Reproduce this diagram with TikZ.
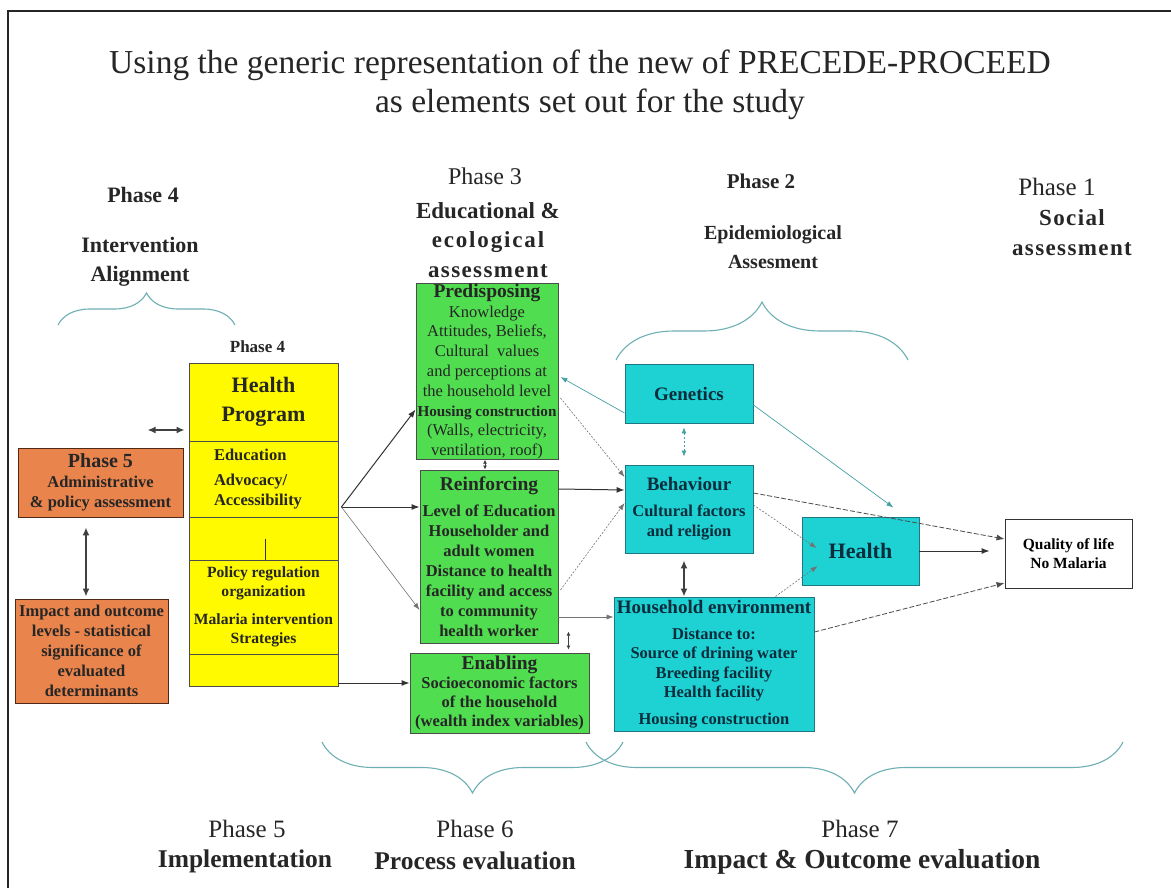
\documentclass[tikz,border=0pt]{standalone}
\usepackage{fontspec}
\setmainfont{Liberation Serif}
\usetikzlibrary{arrows.meta,positioning,decorations.pathreplacing}

\definecolor{hpyellow}{RGB}{255,250,0}
\definecolor{envgreen}{RGB}{80,222,80}
\definecolor{epicyan}{RGB}{30,210,212}
\definecolor{cyanedge}{RGB}{30,120,130}
\definecolor{cyantext}{RGB}{10,45,60}
\definecolor{admorange}{RGB}{232,132,76}
\definecolor{orangeedge}{RGB}{80,40,20}
\definecolor{bracecol}{RGB}{110,175,180}
\definecolor{tealline}{RGB}{70,160,165}

\newcommand{\setfs}[2]{\fontsize{#1}{#2}\selectfont}

\begin{document}
\begin{tikzpicture}[x=1pt,y=-1pt,
				box/.style={draw,rectangle,inner sep=0pt,align=center,line width=0.9pt,
					font=\setfs{16.5}{20}\bfseries},
				yellowbox/.style={box,fill=hpyellow,draw=black!70,minimum width=149pt,text=black!85},
				greenbox/.style={box,fill=envgreen,draw=black!70,text=black!85},
				cyanbox/.style={box,fill=epicyan,draw=cyanedge,text=cyantext},
				orangebox/.style={box,fill=admorange,draw=orangeedge,text=black!85},
				headtxt/.style={align=center,inner sep=0pt,text=black!85},
				phasebrace/.style={draw=bracecol,line width=1.1pt,decorate,decoration={brace,amplitude=#1}},
				solidarr/.style={draw=black!80,line width=1pt,-{Latex[length=8pt,width=6pt]}},
				dblarr/.style={draw=black!75,line width=1.6pt,{Latex[length=8pt,width=7pt]}-{Latex[length=8pt,width=7pt]}},
				smalldbl/.style={draw=black!75,line width=0.8pt,{Latex[length=4pt,width=4pt]}-{Latex[length=4pt,width=4pt]}},
				thinarr/.style={draw=black!55,line width=0.6pt,-{Latex[length=7pt,width=5pt]}},
				dotarr/.style={thinarr,dash pattern=on 2pt off 1.5pt},
				dasharr/.style={draw=black!70,line width=0.8pt,dash pattern=on 5pt off 2pt,-{Latex[length=8pt,width=6pt]}},
				tealarr/.style={draw=tealline,line width=0.7pt,-{Latex[length=7pt,width=5pt]}},
				tealdbl/.style={draw=tealline,line width=0.8pt,dash pattern=on 2pt off 2pt,
					{Latex[length=6pt,width=5pt]}-{Latex[length=6pt,width=5pt]}}]
				
				\fill[white] (0,0) rectangle (1171,888);
				\useasboundingbox (0,0) rectangle (1171,888);
				\draw[line width=2pt,black!85] (8,888) -- (8,11) -- (1171,11);
				
				% Title
				\node[headtxt,font=\setfs{33.5}{37}] (title) at (580,65)
					{Using the generic representation of the new of PRECEDE-PROCEED};
				\node[headtxt,font=\setfs{33.5}{37},below=8pt of title,xshift=10pt] (subtitle)
					{as elements set out for the study};
				
				% Phase headings
				\node[headtxt,font=\setfs{22}{29}\bfseries] (ph4) at (143,195) {Phase 4};
				\node[headtxt,font=\setfs{22}{29}\bfseries] (ph4name) at (140,262) {Intervention\\Alignment};
				\node[headtxt,font=\setfs{24}{29}] (ph3) at (485,176) {Phase 3};
				\node[headtxt,font=\setfs{23}{29.5}\bfseries] (ph3name) at (488,240)
					{Educational \&\\{\addfontfeatures{LetterSpace=8}ecological}\\{\addfontfeatures{LetterSpace=6}assessment}};
				\node[headtxt,font=\setfs{21}{29}\bfseries] (ph2) at (761,181) {Phase 2};
				\node[headtxt,font=\setfs{20}{29}\bfseries] (ph2name) at (773,247) {Epidemiological\\Assesment};
				\node[headtxt,font=\setfs{25}{30}] (ph1) at (1057,187) {Phase 1};
				\node[headtxt,font=\setfs{23}{30}\bfseries\addfontfeatures{LetterSpace=6}] (ph1name) at (1072,233)
					{Social\\assessment};
				
				% Health program column
				\node[yellowbox,minimum height=78pt,font=\setfs{22}{29}\bfseries] (hptop) at (263.5,402) {Health\\Program};
				\node[yellowbox,minimum height=76pt,align=left,text width=99pt] (hpedu) at (263.5,479) {Education\\[5pt]Advocacy/\\Accessibility};
				\node[yellowbox,minimum height=43pt] (hpgap) at (263.5,538.5) {};
				\node[yellowbox,minimum height=94pt,font=\setfs{15.6}{19}\bfseries] (hppol) at (263.5,607)
					{Policy regulation\\organization\\[9pt]Malaria intervention\\Strategies};
				\node[yellowbox,minimum height=32pt] (hpbot) at (263.5,670) {};
				\node[headtxt,font=\setfs{17}{20}\bfseries,above=10pt of hptop,xshift=-6pt] (ph4small) {Phase 4};
				\draw[black!80,line width=0.8pt] ([xshift=1.5pt]hpgap.center) -- ([xshift=1.5pt]hpgap.south);
				
				% Administration and evaluation
				\node[orangebox,minimum width=165pt,minimum height=69pt] (adm) at (100.5,482.5)
					{{\setfs{20}{20}Phase 5}\\Administrative\\\& policy assessment};
				\node[orangebox,minimum width=153pt,minimum height=104pt] (imp) at (91.5,651)
					{Impact and outcome\\levels - statistical\\significance of\\evaluated\\determinants};
				
				% Educational factors
				\node[greenbox,minimum width=142pt,minimum height=175pt,font=\setfs{16.5}{19.8}] (pre) at (487,371.5)
					{{\bfseries\setfs{19.5}{20}Predisposing}\\Knowledge\\Attitudes, Beliefs,\\Cultural~ values\\and perceptions at\\the household level\\{\bfseries\setfs{15.2}{20}Housing construction}\\(Walls, electricity,\\ventilation, roof)};
				\node[greenbox,minimum width=138pt,minimum height=173pt] (rei) at (489,556.5)
					{{\setfs{19.5}{20}Reinforcing}\\[6pt]Level of Education\\Householder and\\adult women\\Distance to health\\facility and access\\to community\\health worker};
				\node[greenbox,minimum width=179pt,minimum height=80pt,font=\setfs{16.5}{19}\bfseries] (ena) at (499.5,693)
					{{\setfs{19.5}{20}Enabling}\\Socioeconomic factors\\of the household\\(wealth index variables)};
				
				% Epidemiological factors
				\node[cyanbox,minimum width=128pt,minimum height=59pt,font=\setfs{19}{20}\bfseries] (gen) at (689,393.5) {Genetics};
				\node[cyanbox,minimum width=128pt,minimum height=88pt] (beh) at (689,509)
					{{\setfs{19}{20}Behaviour}\\[6pt]Cultural factors\\and religion};
				\node[cyanbox,minimum width=200pt,minimum height=134pt,font=\setfs{16.5}{19.5}\bfseries] (hh) at (714,664)
					{{\setfs{19}{20}Household environment}\\[6pt]Distance to:\\Source of drining water\\Breeding facility\\Health facility\\[7pt]Housing construction};
				\node[cyanbox,minimum width=117pt,minimum height=68pt,font=\setfs{22}{24}\bfseries] (hl) at (860.5,551) {Health};
				\node[box,fill=white,draw=black!80,minimum width=127pt,minimum height=69pt,font=\setfs{15.5}{19}\bfseries] (qol) at (1068.5,553.5)
					{Quality of life\\No Malaria};
				
				% Bottom phases
				\node[headtxt,font=\setfs{25}{30}] (ph5) at (247,829) {Phase 5};
				\node[headtxt,font=\setfs{25.5}{30}\bfseries] (ph5name) at (245,861) {Implementation};
				\node[headtxt,font=\setfs{25}{30}] (ph6) at (475,829) {Phase 6};
				\node[headtxt,font=\setfs{25.5}{30}\bfseries] (ph6name) at (475,861) {Process evaluation};
				\node[headtxt,font=\setfs{25}{30}] (ph7) at (860,829) {Phase 7};
				\node[headtxt,font=\setfs{27.5}{30}\bfseries] (ph7name) at (862,862) {Impact \& Outcome evaluation};
				
				% Braces
				\draw[phasebrace=32pt] (58,325) -- (235,325);
				\draw[phasebrace=58pt] (616,360) -- (908,360);
				\draw[phasebrace=51pt] (623,742) -- (322,742);
				\draw[phasebrace=51pt] (1123,742) -- (586,742);
				
				% Connectors
				\coordinate (fan) at ([xshift=3pt,yshift=-28pt]hpedu.east);
				\draw[solidarr] (fan) -- ([yshift=-38pt]pre.west);
				\draw[solidarr] (fan) -- ([yshift=49.5pt]rei.west);
				\draw[thinarr] (fan) -- ([yshift=-53.5pt]rei.west);
				\draw[solidarr] ([yshift=-13pt]hpbot.east) -- ([yshift=-13pt]hpbot.east -| ena.west);
				\draw[dblarr] ([xshift=-41pt,yshift=-28pt]hptop.west) -- ([xshift=-4pt,yshift=-28pt]hptop.west);
				\draw[dblarr] ([xshift=-14.5pt,yshift=-10pt]adm.south) -- ([xshift=-5.5pt,yshift=2pt]imp.north);
				\draw[smalldbl] ([xshift=-2pt]pre.south) -- ([xshift=-4pt]rei.north);
				\draw[smalldbl] ([xshift=-21pt,yshift=21pt]ena.north east) -- ([xshift=-21pt,yshift=3pt]ena.north east);
				\draw[tealarr] ([yshift=-19.5pt]gen.west) -- ([xshift=2pt,yshift=-5.5pt]pre.east);
				\draw[dotarr] ([xshift=2pt,yshift=-26.5pt]pre.east) -- ([yshift=32pt]beh.west);
				\draw[solidarr] ([yshift=67.5pt]rei.east) -- ([yshift=19pt]beh.west);
				\draw[dotarr] ([xshift=2pt,yshift=-33.5pt]rei.east) -- ([yshift=6pt]beh.west);
				\draw[thinarr] ([yshift=-60.5pt]rei.east) -- ([yshift=-60.5pt]rei.east -| hh.west);
				\draw[tealdbl] ([xshift=-5pt,yshift=-4pt]gen.south) -- ([xshift=-5pt,yshift=8pt]beh.north);
				\draw[dblarr] ([xshift=-5pt,yshift=-7pt]beh.south) -- ([xshift=-5pt]beh.south |- hh.north);
				\draw[tealarr] ([yshift=-11.5pt]gen.east) -- ([xshift=-26pt,yshift=9pt]hl.north east);
				\draw[dasharr] ([yshift=16pt]beh.east) -- ([yshift=14.5pt]qol.west);
				\draw[dotarr] ([yshift=4pt]beh.east) -- ([xshift=15pt,yshift=3pt]hl.west);
				\draw[dotarr] ([xshift=-39pt]hh.north east) -- ([xshift=16pt,yshift=-15pt]hl.west);
				\draw[dasharr] ([yshift=32pt]hh.east) -- ([yshift=-29.5pt]qol.west);
				\draw[solidarr] (hl.east) -- ([xshift=-15pt]hl.east -| qol.west);
			\end{tikzpicture}
\end{document}
